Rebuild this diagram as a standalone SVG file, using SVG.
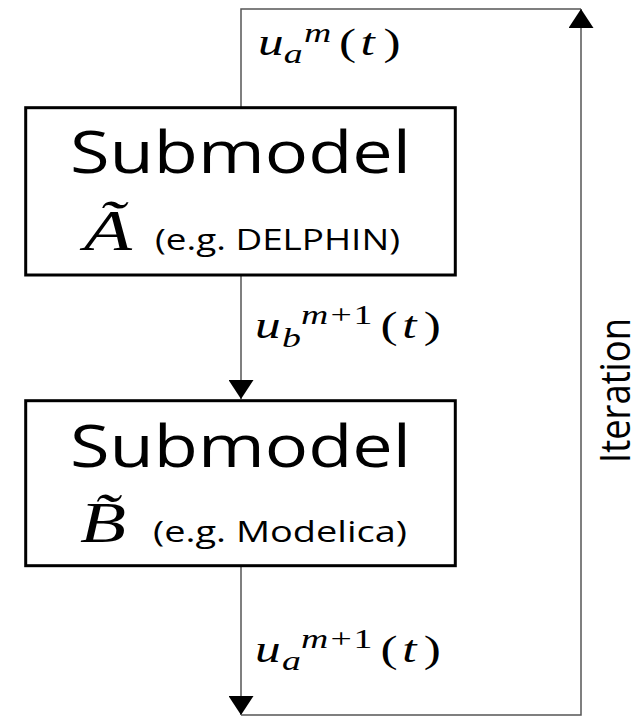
<svg xmlns="http://www.w3.org/2000/svg" width="641" height="717" viewBox="0 0 641 717">
<style>
.box{fill:#fff;stroke:#000;stroke-width:3}
.conn{fill:none;stroke:#555;stroke-width:1.5}
.title{font-family:"Open Sans","Liberation Sans",sans-serif;font-size:58px;fill:#000}
.note{font-family:"Open Sans","Liberation Sans",sans-serif;font-size:30px;fill:#000}
.math{font-family:"Liberation Serif","DejaVu Serif",serif;font-style:italic;font-size:38px;fill:#000}
.sc{font-size:28px}
.up{font-style:normal}
.big{font-family:"Liberation Serif","DejaVu Serif",serif;font-style:italic;font-size:56px;fill:#000}
.side{font-family:"Open Sans","Liberation Sans",sans-serif;font-size:42px;fill:#000}
</style>
<defs>
<marker id="arr" markerUnits="userSpaceOnUse" markerWidth="19" markerHeight="25" refX="19" refY="12.5" orient="auto">
<path d="M0,0 L19,12.5 L0,25 z" fill="#000"/>
</marker>
</defs>
<g id="connectors">
<path class="conn" d="M581,9 H241 V107"/>
<path class="conn" d="M241,275 V399" marker-end="url(#arr)"/>
<path class="conn" d="M241,566 V715" marker-end="url(#arr)"/>
<path class="conn" d="M241,715 H581 V9" marker-end="url(#arr)"/>
<text class="math" transform="translate(258,55) scale(1.35,1)"><tspan x="0" y="0">u</tspan><tspan class="sc" x="19" y="8">a</tspan><tspan class="sc" x="34" y="-13">m</tspan><tspan class="up" x="60" y="0">(</tspan><tspan x="76" y="0">t</tspan><tspan class="up" x="93" y="0">)</tspan></text>
<text class="math" transform="translate(255,338) scale(1.35,1)"><tspan x="0" y="0">u</tspan><tspan class="sc" x="20" y="9">b</tspan><tspan class="sc" x="34" y="-14">m</tspan><tspan class="sc up" x="56" y="-14">+</tspan><tspan class="sc up" x="73" y="-14">1</tspan><tspan class="up" x="93" y="0">(</tspan><tspan x="109" y="0">t</tspan><tspan class="up" x="125" y="0">)</tspan></text>
<text class="math" transform="translate(255,662) scale(1.35,1)"><tspan x="0" y="0">u</tspan><tspan class="sc" x="20" y="8">a</tspan><tspan class="sc" x="34" y="-14">m</tspan><tspan class="sc up" x="56" y="-14">+</tspan><tspan class="sc up" x="73" y="-14">1</tspan><tspan class="up" x="93" y="0">(</tspan><tspan x="109" y="0">t</tspan><tspan class="up" x="125" y="0">)</tspan></text>
<text class="side" transform="translate(630,463) rotate(-90)" x="0" y="0" textLength="145" lengthAdjust="spacingAndGlyphs">Iteration</text>
</g>
<g id="submodelA">
<rect class="box" x="25.7" y="107.7" width="429.6" height="167.3"/>
<text class="title" x="70" y="173" textLength="341" lengthAdjust="spacingAndGlyphs">Submodel</text>
<text class="big" x="84" y="250" textLength="48" lengthAdjust="spacingAndGlyphs">Ã</text>
<text class="note" x="155" y="250" textLength="245" lengthAdjust="spacingAndGlyphs">(e.g. DELPHIN)</text>
</g>
<g id="submodelB">
<rect class="box" x="25.7" y="400.7" width="429.6" height="165"/>
<text class="title" x="70" y="467" textLength="341" lengthAdjust="spacingAndGlyphs">Submodel</text>
<text class="big" x="80" y="542" textLength="46" lengthAdjust="spacingAndGlyphs">B̃</text>
<text class="note" x="153" y="542" textLength="254" lengthAdjust="spacingAndGlyphs">(e.g. Modelica)</text>
</g>
</svg>
